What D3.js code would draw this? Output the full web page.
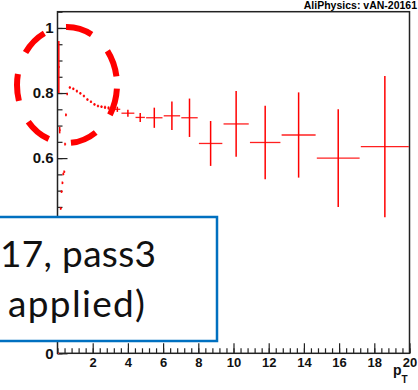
<!DOCTYPE html>
<html>
<head>
<meta charset="utf-8">
<script src="https://cdn.jsdelivr.net/npm/d3@7"></script>
<style>
	body { margin: 0; background: white; }
	svg { display: block; }
</style>
</head>
<body>
<svg id="chart" width="418" height="390"></svg>
<script>
// Efficiency vs pT, variable bins (low edge, high edge, value, stat. error)
const binLo = [0, 0.05, 0.1, 0.15, 0.2, 0.25, 0.3, 0.35, 0.4, 0.45, 0.5, 0.6, 0.8, 1.0, 1.2, 1.4, 1.6, 1.8, 2.0, 2.2, 2.4, 2.6, 2.8, 3.0, 3.2, 3.6, 4.4, 5, 6, 7, 8, 9.4, 10.9, 12.7, 14.7, 17.2]
const binHi = [0.05, 0.1, 0.15, 0.2, 0.25, 0.3, 0.35, 0.4, 0.45, 0.5, 0.6, 0.8, 1.0, 1.2, 1.4, 1.6, 1.8, 2.0, 2.2, 2.4, 2.6, 2.8, 3.0, 3.2, 3.6, 4.4, 5, 6, 7, 8, 9.4, 10.9, 12.7, 14.7, 17.2, 20]
const eff = [0, 0.88, 0.686, 0.445, 0.497, 0.524, 0.551, 0.558, 0.643, 0.733, 0.797, 0.817, 0.813, 0.806, 0.799, 0.791, 0.780, 0.773, 0.765, 0.760, 0.758, 0.756, 0.754, 0.752, 0.750, 0.738, 0.725, 0.724, 0.730, 0.724, 0.645, 0.705, 0.648, 0.671, 0.600, 0.635]
const effErr = [0, 0.08, 0.01, 0.004, 0.004, 0.004, 0.004, 0.004, 0.004, 0.004, 0.004, 0.004, 0.004, 0.004, 0.004, 0.004, 0.004, 0.004, 0.004, 0.004, 0.004, 0.005, 0.005, 0.005, 0.008, 0.011, 0.014, 0.031, 0.044, 0.059, 0.069, 0.101, 0.113, 0.131, 0.15, 0.217]

const xMajor = [2, 4, 6, 8, 10, 12, 14, 16, 18, 20]
const yMajor = [0, 0.2, 0.4, 0.6, 0.8, 1]
const yHiddenLabels = [0.2, 0.4]   // covered by the text box
const boxLines = ["17, pass3", "applied)"]
const title = "AliPhysics: vAN-20161"

const svg = d3.select("#chart")

let x = d3.scaleLinear().domain([0, 20]).range([57.5, 409.5])
let y = d3.scaleLinear().domain([0, 1.05]).range([353.3, 11.7])

const labelFont = "'Liberation Sans', Arial, sans-serif"

// Title (runs off the window edge in the original)
svg.append("text")
	.attr("x", 417)
	.attr("y", 8.5)
	.attr("text-anchor", "end")
	.style("font-family", labelFont)
	.style("font-weight", "bold")
	.style("font-size", "10.5px")
	.text(title)

// Minor ticks first, then major ticks with labels
svg.append("g")
	.attr("transform", `translate(${x(0)},0)`)
	.call(d3.axisLeft(y).tickValues(d3.range(0, 1.051, 0.05)).tickSizeInner(-5).tickSizeOuter(0).tickFormat(""))
	.call(g => g.select(".domain").remove())

svg.append("g")
	.attr("transform", `translate(0,${y(0)})`)
	.call(d3.axisBottom(x).tickValues(d3.range(0, 20.01, 0.4)).tickSizeInner(-5).tickSizeOuter(0).tickFormat(""))
	.call(g => g.select(".domain").remove())

const fmt = d3.format("~g")
svg.append("g")
	.attr("transform", `translate(${x(0)},0)`)
	.call(d3.axisLeft(y).tickValues(yMajor).tickSizeInner(-10).tickSizeOuter(0).tickPadding(4)
		.tickFormat(d => yHiddenLabels.includes(d) ? "" : fmt(d)))
	.call(g => g.select(".domain").remove())
	.call(g => g.selectAll("text")
		.style("font-family", labelFont)
		.style("font-weight", "bold")
		.style("font-size", "15px")
		.attr("fill", "#111"))

svg.append("g")
	.attr("transform", `translate(0,${y(0)})`)
	.call(d3.axisBottom(x).tickValues(xMajor).tickSizeInner(-10).tickSizeOuter(0).tickPadding(4))
	.call(g => g.select(".domain").remove())
	.call(g => g.selectAll("text")
		.style("font-family", labelFont)
		.style("font-weight", "bold")
		.style("font-size", "13px")
		.attr("fill", "#111"))

svg.selectAll(".tick line")
	.attr("stroke", "#222")
	.attr("stroke-width", 1.2)

// Frame
svg.append("rect")
	.attr("x", x(0))
	.attr("y", y(1.05))
	.attr("width", x(20) - x(0))
	.attr("height", y(0) - y(1.05))
	.attr("fill", "none")
	.attr("stroke", "#222")
	.attr("stroke-width", 1.5)

// Axis title p_T
let xt = svg.append("text")
	.attr("x", 393)
	.attr("y", 375)
	.style("font-family", labelFont)
	.style("font-weight", "bold")
	.style("font-size", "14px")
	.attr("fill", "#111")
xt.append("tspan").text("p")
xt.append("tspan").attr("dy", 8).style("font-size", "10px").text("T")

// Error bars
let pts = svg.append("g")
	.selectAll("g.pt")
	.data(eff.map((v, i) => ({lo: binLo[i], hi: binHi[i], v: v, e: effErr[i]})))
	.join("g")
	.attr("class", "pt")
pts.append("line")
	.attr("x1", d => x(d.lo) + 0.6)
	.attr("x2", d => Math.max(x(d.hi) - 0.6, x(d.lo) + 1.6))
	.attr("y1", d => y(d.v))
	.attr("y2", d => y(d.v))
	.attr("stroke", "#ff2020")
	.attr("stroke-width", 1.3)
pts.append("line")
	.attr("x1", d => x((d.lo + d.hi) / 2))
	.attr("x2", d => x((d.lo + d.hi) / 2))
	.attr("y1", d => y(d.v - d.e))
	.attr("y2", d => y(d.v + d.e))
	.attr("stroke", "#ff0000")
	.attr("stroke-width", 1.5)

// Dashed highlight ellipse
let ell = svg.append("ellipse")
	.attr("cx", 67)
	.attr("cy", 85)
	.attr("rx", 50)
	.attr("ry", 58)
	.attr("fill", "none")
	.attr("stroke", "#ff0000")
	.attr("stroke-width", 6)
let len = ell.node().getTotalLength()
ell.attr("stroke-dasharray", `${len * 0.08} ${len * 0.0672}`)
	.attr("stroke-dashoffset", -len * 0.011)

// Overlaid text box (clipped at the left edge)
svg.append("rect")
	.attr("x", -20)
	.attr("y", 217)
	.attr("width", 237)
	.attr("height", 124)
	.attr("fill", "white")
	.attr("stroke", "#0070c0")
	.attr("stroke-width", 2.5)

svg.append("g")
	.selectAll("text")
	.data(boxLines)
	.join("text")
	.attr("x", (d, i) => i === 0 ? 0 : 8)
	.attr("y", (d, i) => i === 0 ? 267 : 317)
	.attr("textLength", (d, i) => i === 0 ? 156 : 137)
	.attr("lengthAdjust", "spacing")
	.style("font-family", "Lato, 'Open Sans', sans-serif")
	.style("font-size", "37px")
	.attr("fill", "#111")
	.text(d => d)
</script>
</body>
</html>
